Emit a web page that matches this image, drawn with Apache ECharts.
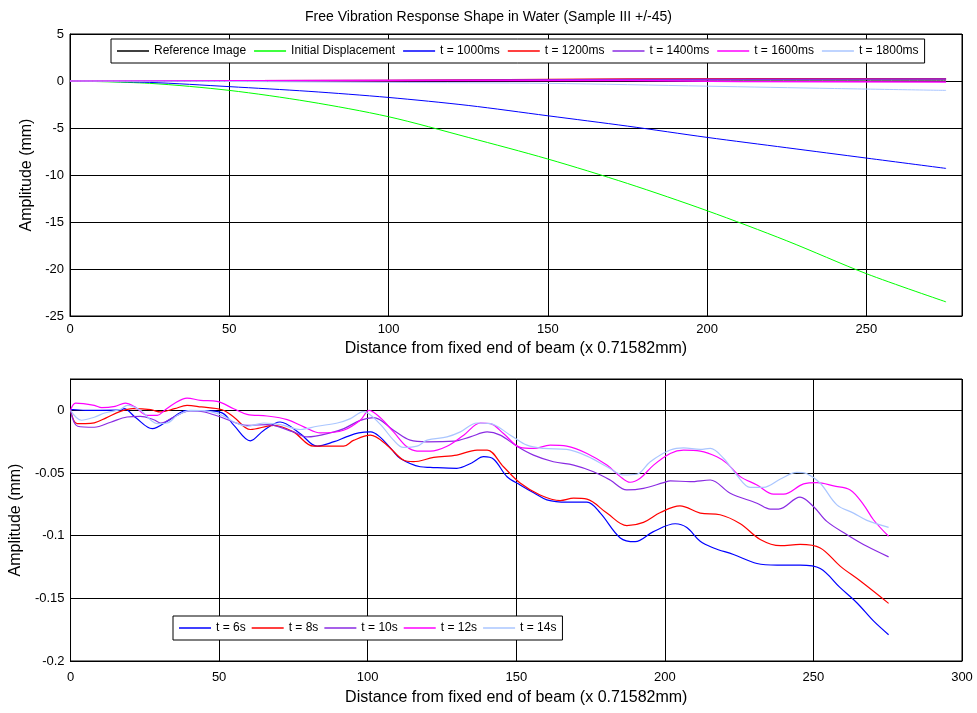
<!DOCTYPE html>
<html>
<head>
<meta charset="utf-8">
<script src="https://cdn.jsdelivr.net/npm/echarts@6/dist/echarts.min.js"></script>
<style>
html,body{margin:0;padding:0;background:#fff;}
#c{width:977px;height:713px;}
</style>
</head>
<body>
<div id="c"></div>
<script>
// ---------- Top plot data (Distance x, Amplitude mm) ----------
const topTitle = 'Free Vibration Response Shape in Water (Sample III +/-45)';
const topNames = ['Reference Image','Initial Displacement','t = 1000ms','t = 1200ms','t = 1400ms','t = 1600ms','t = 1800ms'];
const refX = [0, 100, 175, 275];
const refY = [0, 0.02, 0.1, 0.1];
const initX = [0, 25, 50, 75, 100, 125, 150, 175, 200, 225, 250, 275];
const initY = [0, -0.25, -1.0, -2.2, -3.8, -6.0, -8.3, -10.9, -13.8, -17.0, -20.5, -23.5];
const t1000X = [0, 25, 50, 75, 100, 125, 150, 175, 200, 225, 250, 275];
const t1000Y = [0, -0.15, -0.6, -1.1, -1.75, -2.6, -3.7, -4.8, -6.0, -7.1, -8.2, -9.3];
const t1200X = [0, 100, 175, 275];
const t1200Y = [0, 0.05, 0.2, 0.25];
const t1400X = [0, 100, 175, 275];
const t1400Y = [0, 0.05, 0.15, 0.2];
const t1600X = [0, 100, 175, 210, 275];
const t1600Y = [0, 0.05, 0.05, -0.05, -0.1];
const t1800X = [0, 50, 100, 150, 200, 240, 275];
const t1800Y = [0, -0.05, -0.15, -0.25, -0.55, -0.8, -1.0];
const topXTicks = [0, 50, 100, 150, 200, 250];
const topYTicks = [5, 0, -5, -10, -15, -20, -25];

// ---------- Bottom plot data ----------
const botNames = ['t = 6s','t = 8s','t = 10s','t = 12s','t = 14s'];
const s6X = [0, 1, 5, 10, 17, 18, 22, 27.5, 33, 39, 45, 51, 55, 60.5, 65, 70.5, 77, 83, 88.7, 93, 97, 101, 104, 108, 111, 117.7, 121, 130, 135, 139, 142.4, 146.9, 151.3, 156, 160.3, 167, 173.8, 178.3, 185, 190, 196, 203.5, 207.4, 211.9, 216.4, 223.1, 231, 237.8, 245.5, 252.3, 259, 264.6, 270.2, 275.3];
const s6Y = [0.0005, 0.0005, 0, 0, 0.0003, 0.0013, -0.006, -0.0146, -0.008, -0.0003, -0.0003, -0.002, -0.012, -0.0243, -0.016, -0.0093, -0.018, -0.0286, -0.025, -0.021, -0.018, -0.0172, -0.021, -0.031, -0.0384, -0.045, -0.0455, -0.0463, -0.042, -0.037, -0.039, -0.053, -0.0595, -0.066, -0.0714, -0.0733, -0.0733, -0.082, -0.1018, -0.1048, -0.097, -0.0905, -0.0935, -0.1045, -0.1098, -0.115, -0.1222, -0.1235, -0.1235, -0.1262, -0.1415, -0.1535, -0.168, -0.179];
const s8X = [0, 2.2, 5, 8, 12, 16.8, 21, 27, 30.3, 35, 39.2, 44, 51, 54.9, 60.5, 68.4, 75, 81.8, 91.9, 95.2, 100.9, 106.5, 112, 115.4, 122.2, 130, 136.8, 140.2, 145.7, 151.3, 158, 164.8, 169.3, 173.8, 180.5, 187.2, 192.8, 198.5, 205.1, 211.9, 218.6, 225.4, 232.1, 238.9, 245.5, 252.3, 259, 265.7, 275.3];
const s8Y = [0, -0.0106, -0.0106, -0.01, -0.006, -0.0008, 0.0013, 0.0005, -0.0013, 0.0013, 0.004, 0.0027, 0.0005, -0.0053, -0.0153, -0.012, -0.0172, -0.0286, -0.0286, -0.024, -0.0198, -0.0278, -0.0397, -0.041, -0.0376, -0.0357, -0.0317, -0.0317, -0.045, -0.058, -0.0675, -0.072, -0.0701, -0.0709, -0.082, -0.092, -0.0894, -0.0815, -0.0762, -0.082, -0.0833, -0.0905, -0.103, -0.108, -0.107, -0.1098, -0.1243, -0.136, -0.154];
const s10X = [0, 2.4, 8, 13.5, 19, 23.5, 28, 30.3, 34.8, 40.4, 45, 50.5, 59.4, 66.1, 75, 79.6, 88.7, 92, 97.5, 102, 108.7, 114.3, 120, 129, 134.5, 140.2, 144.6, 150.2, 155.8, 162.5, 169.3, 176, 181.6, 187.2, 192.8, 199.6, 201.8, 208.5, 215.3, 222, 231, 235.5, 238.3, 245.5, 250, 254.5, 261.3, 268, 275.3];
const s10Y = [0, -0.0127, -0.0135, -0.0095, -0.0053, -0.0048, -0.0075, -0.0101, -0.0053, -0.0003, -0.0013, -0.0053, -0.012, -0.0114, -0.0172, -0.0212, -0.0172, -0.0146, -0.008, -0.0058, -0.0159, -0.0238, -0.0251, -0.0246, -0.0212, -0.0172, -0.0198, -0.0286, -0.0357, -0.041, -0.0437, -0.049, -0.0556, -0.0635, -0.0622, -0.0577, -0.0563, -0.0569, -0.0556, -0.0661, -0.0741, -0.0788, -0.0788, -0.0693, -0.0767, -0.0886, -0.0992, -0.1085, -0.1169];
const s12X = [0, 1.7, 8, 10.5, 15, 18.4, 21.5, 25.8, 29.2, 31.5, 34.8, 39.2, 43.7, 49.3, 54.9, 59.4, 66.1, 72.9, 78.5, 84.1, 91.9, 97.5, 100.5, 104, 108.7, 113.2, 116.6, 121.1, 126.7, 132.3, 137.9, 141.3, 145.7, 151.3, 155.8, 161.4, 167, 173.8, 180.5, 185, 188.3, 191.7, 196.2, 201.8, 206.3, 211.9, 217.5, 220.9, 225.4, 231, 236.6, 240, 246.7, 251.2, 256.8, 262.4, 266.9, 270.2, 275.3];
const s12Y = [0, 0.0058, 0.004, 0.0021, 0.0032, 0.0058, 0.003, -0.004, -0.004, -0.0003, 0.0053, 0.0098, 0.008, 0.0071, 0.0013, -0.0032, -0.0045, -0.0074, -0.0132, -0.018, -0.0159, -0.0079, 0, -0.0053, -0.0172, -0.0291, -0.0325, -0.0325, -0.0286, -0.0198, -0.0101, -0.0106, -0.0185, -0.0296, -0.0304, -0.0278, -0.0286, -0.0344, -0.0437, -0.0529, -0.0574, -0.0542, -0.0437, -0.0344, -0.0317, -0.0325, -0.037, -0.0423, -0.0529, -0.0595, -0.0669, -0.0669, -0.0587, -0.0577, -0.0603, -0.0635, -0.0754, -0.0873, -0.1005];
const s14X = [0, 3.7, 8, 11.5, 16.8, 19.1, 23.5, 29.2, 32.5, 36, 40.4, 45, 51, 55, 59.4, 65, 70.6, 77.4, 83, 89.8, 94.2, 98.5, 104, 108.7, 112, 116.6, 120, 126.7, 131.2, 136.8, 141.3, 148, 153.6, 159.2, 167, 173.8, 180.5, 186.1, 190.6, 195.1, 201.8, 206.3, 211.9, 215.3, 219.8, 224.2, 228.7, 233.2, 238.9, 244.4, 247.8, 252.3, 257.9, 263.5, 268, 275.3];
const s14Y = [0, -0.0079, -0.0055, -0.0021, 0.0008, 0.004, 0, -0.0106, -0.0101, -0.004, 0, -0.0003, -0.004, -0.0093, -0.0127, -0.0101, -0.0114, -0.0153, -0.0127, -0.0101, -0.0066, -0.001, -0.0106, -0.0238, -0.0296, -0.0286, -0.0238, -0.0212, -0.0172, -0.0101, -0.0106, -0.0198, -0.0278, -0.0304, -0.0312, -0.0365, -0.045, -0.0516, -0.051, -0.041, -0.0317, -0.0299, -0.0312, -0.0304, -0.0384, -0.0516, -0.0614, -0.0614, -0.0548, -0.0495, -0.0506, -0.0582, -0.0754, -0.082, -0.0878, -0.0934];
const botXTicks = [0, 50, 100, 150, 200, 250, 300];
const botYTicks = [0, -0.05, -0.1, -0.15, -0.2];

const xName = 'Distance from fixed end of beam (x 0.71582mm)';
const yName = 'Amplitude (mm)';

const topColors = ['#000000', '#00FF00', '#0000FF', '#FF0000', '#8A2BE2', '#FF00FF', '#AAC6FF'];
const botColors = ['#0000FF', '#FF0000', '#8A2BE2', '#FF00FF', '#AAC6FF'];

function zip(xs, ys) { return xs.map((x, i) => [x, ys[i]]); }

const FONT = '"Liberation Sans", Arial, sans-serif';
const chart = echarts.init(document.getElementById('c'), null, { renderer: 'canvas' });

function xAxisCfg(idx, max, gap, margin) {
  return {
    type: 'value', gridIndex: idx, min: 0, max: max, interval: 50,
    name: xName, nameLocation: 'middle', nameGap: gap,
    nameTextStyle: { fontFamily: FONT, fontSize: 16, color: '#000' },
    axisLine: { show: true, onZero: false, lineStyle: { color: '#000', width: 1 } },
    axisTick: { show: true, inside: true, length: 4, lineStyle: { color: '#000' } },
    axisLabel: { fontFamily: FONT, fontSize: 13, color: '#000', margin: margin, showMaxLabel: max % 50 === 0 },
    splitLine: { show: true, lineStyle: { color: '#000', width: 1 } }
  };
}
function yAxisCfg(idx, min, max, interval, gap, fmt) {
  return {
    type: 'value', gridIndex: idx, min: min, max: max, interval: interval,
    name: yName, nameLocation: 'middle', nameGap: gap,
    nameTextStyle: { fontFamily: FONT, fontSize: 16, color: '#000' },
    axisLine: { show: true, onZero: false, lineStyle: { color: '#000', width: 1 } },
    axisTick: { show: true, inside: true, length: 4, lineStyle: { color: '#000' } },
    axisLabel: { fontFamily: FONT, fontSize: 13, color: '#000', margin: 6, showMaxLabel: fmt.showMax, formatter: fmt.f },
    splitLine: { show: true, lineStyle: { color: '#000', width: 1 } }
  };
}

const topSeriesData = [zip(refX, refY), zip(initX, initY), zip(t1000X, t1000Y), zip(t1200X, t1200Y), zip(t1400X, t1400Y), zip(t1600X, t1600Y), zip(t1800X, t1800Y)];
const botSeriesData = [zip(s6X, s6Y), zip(s8X, s8Y), zip(s10X, s10Y), zip(s12X, s12Y), zip(s14X, s14Y)];

const series = [];
topNames.forEach((n, i) => series.push({
  name: n, type: 'line', xAxisIndex: 0, yAxisIndex: 0, data: topSeriesData[i],
  showSymbol: false, symbol: 'none', smooth: 0.3, animation: false,
  lineStyle: { color: topColors[i], width: i >= 3 && i <= 5 ? 1.5 : 1 }, itemStyle: { color: topColors[i] }
}));
botNames.forEach((n, i) => series.push({
  name: n, type: 'line', xAxisIndex: 1, yAxisIndex: 1, data: botSeriesData[i],
  showSymbol: false, symbol: 'none', smooth: 0.35, animation: false,
  lineStyle: { color: botColors[i], width: 1.2 }, itemStyle: { color: botColors[i] }
}));

const legendBase = {
  orient: 'horizontal', backgroundColor: '#fff', borderColor: '#000', borderWidth: 1,
  padding: [6, 6], itemWidth: 32, itemHeight: 1.5, icon: 'rect',
  textStyle: { fontFamily: FONT, fontSize: 12, color: '#000', padding: [0, 0, 0, 0] }
};

chart.setOption({
  animation: false,
  backgroundColor: '#fff',
  title: {
    text: topTitle, left: 'center', top: 5,
    textStyle: { fontFamily: FONT, fontSize: 14, fontWeight: 'normal', color: '#000' }
  },
  legend: [
    Object.assign({}, legendBase, { data: topNames, left: 111, top: 39, itemGap: 8 }),
    Object.assign({}, legendBase, { data: botNames, left: 173, top: 616, itemGap: 6 })
  ],
  grid: [
    { left: 70, top: 34, width: 892, height: 282, show: true, borderColor: '#000', borderWidth: 1, backgroundColor: '#fff' },
    { left: 70, top: 379, width: 892, height: 282, show: true, borderColor: '#000', borderWidth: 1, backgroundColor: '#fff' }
  ],
  xAxis: [xAxisCfg(0, 280, 25, 7), xAxisCfg(1, 300, 29, 10)],
  yAxis: [
    yAxisCfg(0, -25, 5, 5, 21, { showMax: true, f: v => String(v) }),
    yAxisCfg(1, -0.2, 0.025, 0.05, 32, { showMax: false, f: v => String(Math.round(v * 100) / 100) })
  ],
  series: series
});
</script>
</body>
</html>
